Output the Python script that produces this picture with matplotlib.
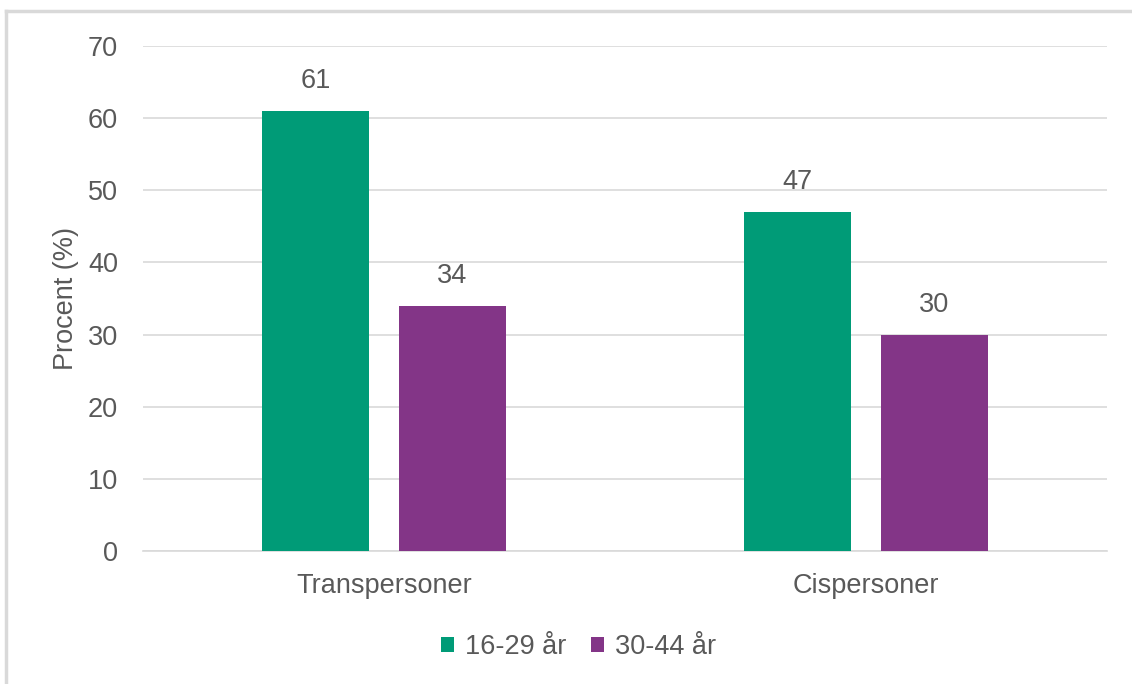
import numpy as np
import matplotlib.pyplot as plt
from matplotlib.lines import Line2D

plt.rcParams['font.family'] = ['Liberation Sans', 'DejaVu Sans']

categories = ['Transpersoner', 'Cispersoner']
series_names = ['16-29 år', '30-44 år']
young = [61, 47]
older = [34, 30]
colors = ['#009B77', '#833587']
text_color = '#595959'
fs = 19.5

fig = plt.figure(figsize=(11.32, 6.84), dpi=100)
ax = fig.add_axes([0.1263, 0.1944, 0.8516, 0.7383])

x = np.arange(len(categories))
width = 0.222
offset = 0.142

bars1 = ax.bar(x - offset, young, width, color=colors[0], label=series_names[0], zorder=3)
bars2 = ax.bar(x + offset, older, width, color=colors[1], label=series_names[1], zorder=3)

for bars in (bars1, bars2):
    for b in bars:
        ax.annotate(f'{b.get_height():.0f}', (b.get_x() + b.get_width() / 2, b.get_height()),
                    xytext=(0, 12), textcoords='offset points', ha='center', va='bottom',
                    fontsize=fs, color=text_color)

ax.set_xlim(-0.5, 1.5)
ax.set_ylim(0, 70)
ax.set_yticks(range(0, 71, 10))
ax.set_xticks(x)
ax.set_xticklabels(categories)
ax.yaxis.grid(True, color='#d9d9d9', linewidth=1.2, zorder=0)
ax.set_axisbelow(True)
for s in ['top', 'right', 'left']:
    ax.spines[s].set_visible(False)
ax.spines['bottom'].set_color('#d9d9d9')
ax.spines['bottom'].set_linewidth(1.2)
ax.tick_params(axis='both', length=0, labelsize=fs, labelcolor=text_color)
ax.tick_params(axis='y', pad=18)
ax.tick_params(axis='x', pad=16)
ax.set_ylabel('Procent (%)', fontsize=fs, color=text_color, labelpad=6)

fig.legend(handles=[bars1, bars2], labels=series_names, loc='center',
           bbox_to_anchor=(0.511, 1 - 647 / 684), ncol=2, frameon=False,
           fontsize=fs, labelcolor=text_color, handlelength=0.5, handleheight=0.5,
           handletextpad=0.4, columnspacing=0.9)

# thin frame on the left and top edges of the figure
fig.add_artist(Line2D([6 / 1132, 6 / 1132], [0, 1 - 11 / 684], transform=fig.transFigure,
                      color='#d9d9d9', linewidth=2.5))
fig.add_artist(Line2D([6 / 1132, 1], [1 - 11 / 684, 1 - 11 / 684], transform=fig.transFigure,
                      color='#d9d9d9', linewidth=2.5))

fig.savefig('out.png', dpi=100)
